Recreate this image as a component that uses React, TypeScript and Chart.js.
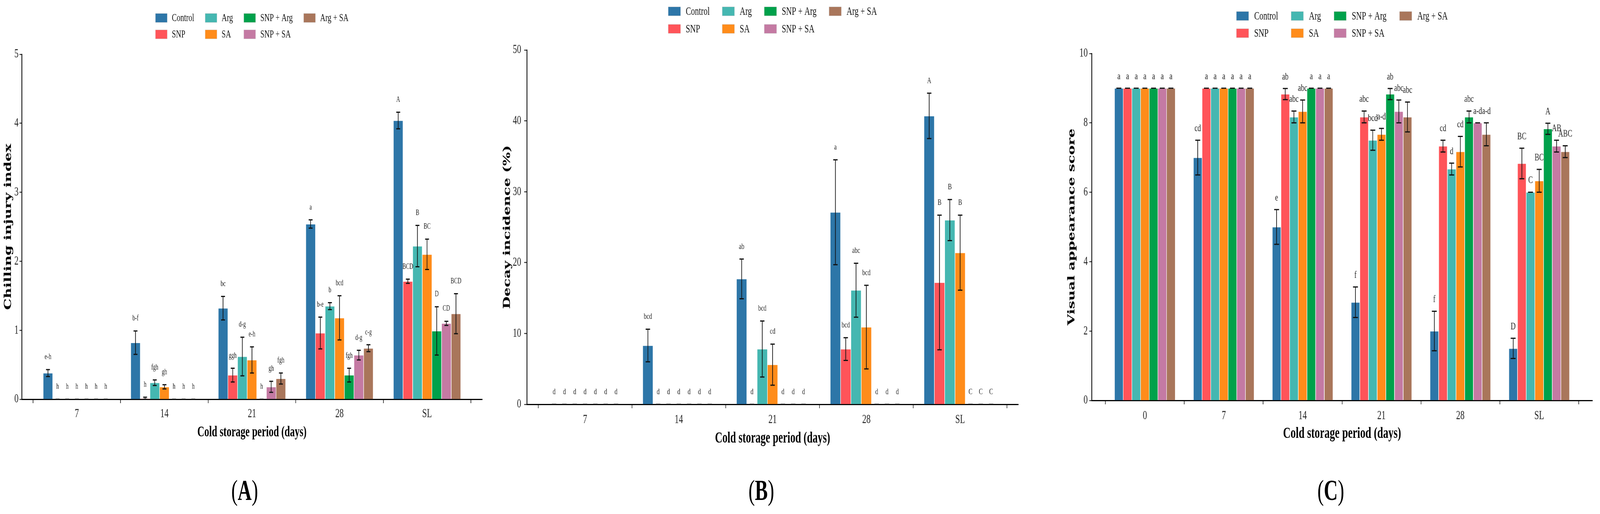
import { useEffect, useRef } from "react"
import { Chart, registerables } from "chart.js"

Chart.register(...registerables)

const treatments = ["Control", "SNP", "Arg", "SA", "SNP + Arg", "SNP + SA", "Arg + SA"]
const colors = ["#2D76A8", "#FF5459", "#45B7B1", "#FF8C1A", "#00A14B", "#C47AA3", "#A9765B"]

// (A) chilling injury index
const daysA = ["7", "14", "21", "28", "SL"]
const chillControl = [0.38, 0.82, 1.32, 2.54, 4.04]
const chillControlErr = [0.05, 0.17, 0.17, 0.06, 0.12]
const chillControlSig = ["e-h", "b-f", "bc", "a", "A"]
const chillSnp = [0, 0.01, 0.35, 0.96, 1.71]
const chillSnpErr = [0, 0.02, 0.1, 0.23, 0.03]
const chillSnpSig = ["h", "h", "ggh", "b-e", "BCD"]
const chillArg = [0, 0.24, 0.62, 1.35, 2.22]
const chillArgErr = [0, 0.04, 0.28, 0.05, 0.3]
const chillArgSig = ["h", "fgh", "d-g", "b", "B"]
const chillSa = [0, 0.18, 0.57, 1.18, 2.1]
const chillSaErr = [0, 0.03, 0.19, 0.32, 0.22]
const chillSaSig = ["h", "gh", "e-h", "bcd", "BC"]
const chillSnpArg = [0, 0, 0, 0.35, 0.99]
const chillSnpArgErr = [0, 0, 0, 0.1, 0.35]
const chillSnpArgSig = ["h", "h", "h", "fgh", "D"]
const chillSnpSa = [0, 0, 0.18, 0.64, 1.1]
const chillSnpSaErr = [0, 0, 0.08, 0.07, 0.03]
const chillSnpSaSig = ["h", "h", "gh", "d-g", "CD"]
const chillArgSa = [0, 0, 0.3, 0.74, 1.24]
const chillArgSaErr = [0, 0, 0.08, 0.05, 0.29]
const chillArgSaSig = ["h", "h", "fgh", "c-g", "BCD"]

// (B) decay incidence (%)
const daysB = ["7", "14", "21", "28", "SL"]
const decayControl = [0, 8.3, 17.7, 27.1, 40.7]
const decayControlErr = [0, 2.3, 2.8, 7.4, 3.2]
const decayControlSig = ["d", "bcd", "ab", "a", "A"]
const decaySnp = [0, 0, 0, 7.8, 17.2]
const decaySnpErr = [0, 0, 0, 1.6, 9.5]
const decaySnpSig = ["d", "d", "d", "bcd", "B"]
const decayArg = [0, 0, 7.8, 16.1, 26.0]
const decayArgErr = [0, 0, 3.95, 3.8, 2.9]
const decayArgSig = ["d", "d", "bcd", "abc", "B"]
const decaySa = [0, 0, 5.6, 10.9, 21.4]
const decaySaErr = [0, 0, 2.9, 5.9, 5.3]
const decaySaSig = ["d", "d", "cd", "bcd", "B"]
const decaySnpArg = [0, 0, 0, 0, 0]
const decaySnpArgErr = [0, 0, 0, 0, 0]
const decaySnpArgSig = ["d", "d", "d", "d", "C"]
const decaySnpSa = [0, 0, 0, 0, 0]
const decaySnpSaErr = [0, 0, 0, 0, 0]
const decaySnpSaSig = ["d", "d", "d", "d", "C"]
const decayArgSa = [0, 0, 0, 0, 0]
const decayArgSaErr = [0, 0, 0, 0, 0]
const decayArgSaSig = ["d", "d", "d", "d", "C"]

// (C) visual appearance score
const daysC = ["0", "7", "14", "21", "28", "SL"]
const visControl = [9, 7, 5, 2.83, 2, 1.5]
const visControlErr = [0, 0.5, 0.5, 0.44, 0.57, 0.29]
const visControlSig = ["a", "cd", "e", "f", "f", "D"]
const visSnp = [9, 9, 8.83, 8.17, 7.33, 6.83]
const visSnpErr = [0, 0, 0.16, 0.17, 0.17, 0.44]
const visSnpSig = ["a", "a", "ab", "abc", "cd", "BC"]
const visArg = [9, 9, 8.17, 7.5, 6.67, 6.0]
const visArgErr = [0, 0, 0.17, 0.29, 0.17, 0]
const visArgSig = ["a", "a", "abc", "bcd", "d", "C"]
const visSa = [9, 9, 8.33, 7.67, 7.17, 6.33]
const visSaErr = [0, 0, 0.33, 0.17, 0.44, 0.33]
const visSaSig = ["a", "a", "abc", "a-d", "cd", "BC"]
const visSnpArg = [9, 9, 9, 8.83, 8.17, 7.83]
const visSnpArgErr = [0, 0, 0, 0.16, 0.17, 0.16]
const visSnpArgSig = ["a", "a", "a", "ab", "abc", "A"]
const visSnpSa = [9, 9, 9, 8.33, 8.0, 7.33]
const visSnpSaErr = [0, 0, 0, 0.33, 0, 0.17]
const visSnpSaSig = ["a", "a", "a", "abc", "a-d", "AB"]
const visArgSa = [9, 9, 9, 8.17, 7.67, 7.17]
const visArgSaErr = [0, 0, 0, 0.43, 0.33, 0.17]
const visArgSaSig = ["a", "a", "a", "abc", "a-d", "ABC"]

const SERIF = '"Liberation Serif", "Times New Roman", serif'
const W = 6128
const H = 1317

// error bars + significance letters
const errorBarPlugin = {
  id: "errorBars",
  afterDatasetsDraw(chart: any, _args: any, opts: any) {
    const { ctx } = chart
    const y = chart.scales.y
    ctx.save()
    chart.data.datasets.forEach((ds: any, i: number) => {
      const meta = chart.getDatasetMeta(i)
      meta.data.forEach((bar: any, j: number) => {
        const v = ds.data[j].y
        const e = ds.errors[j]
        const top = y.getPixelForValue(v + e)
        const bot = y.getPixelForValue(Math.max(0, v - e))
        const half = opts.cap / 2
        ctx.strokeStyle = "#111"
        ctx.lineWidth = 2.5
        ctx.beginPath()
        ctx.moveTo(bar.x, top)
        ctx.lineTo(bar.x, bot)
        ctx.stroke()
        ctx.lineWidth = 3
        ctx.beginPath()
        ctx.moveTo(bar.x - half, top)
        ctx.lineTo(bar.x + half, top)
        ctx.moveTo(bar.x - half, bot)
        ctx.lineTo(bar.x + half, bot)
        ctx.stroke()
        ctx.fillStyle = "#222"
        ctx.font = `${opts.size}px ${SERIF}`
        ctx.textAlign = "center"
        ctx.textBaseline = "middle"
        ctx.fillText(ds.sig[j], bar.x, top - opts.gap)
      })
    })
    ctx.restore()
  },
}

// legend in a 4 x 2 grid, filled column by column
const gridLegendPlugin = {
  id: "gridLegend",
  afterDraw(chart: any, _args: any, opts: any) {
    const { ctx, chartArea } = chart
    const ds = chart.data.datasets
    ctx.save()
    ctx.font = `${opts.size}px ${SERIF}`
    const cols: any[] = []
    for (let c = 0; c < Math.ceil(ds.length / 2); c++) {
      const items = [ds[2 * c], ds[2 * c + 1]].filter(Boolean)
      const w = Math.max(...items.map((d: any) => ctx.measureText(d.label).width))
      cols.push({ items, w })
    }
    const total =
      cols.reduce((s, c) => s + opts.box + opts.gap + c.w, 0) + opts.colGap * (cols.length - 1)
    let x = (chartArea.left + chartArea.right) / 2 - total / 2
    cols.forEach((col) => {
      col.items.forEach((d: any, r: number) => {
        const cy = opts.rows[r]
        ctx.fillStyle = d.backgroundColor
        ctx.fillRect(x, cy - opts.boxH / 2, opts.box, opts.boxH)
        ctx.strokeStyle = "rgba(200,200,200,0.8)"
        ctx.lineWidth = 1
        ctx.strokeRect(x, cy - opts.boxH / 2, opts.box, opts.boxH)
        ctx.fillStyle = "#111"
        ctx.textAlign = "left"
        ctx.textBaseline = "middle"
        ctx.fillText(d.label, x + opts.box + opts.gap, cy + 1)
      })
      x += opts.box + opts.gap + col.w + opts.colGap
    })
    ctx.restore()
  },
}

const panels = [
  {
    key: "A",
    left: 0,
    width: 1960,
    area: { l: 83, r: 1847, t: 139, b: 1023 },
    cats: daysA,
    series: [chillControl, chillSnp, chillArg, chillSa, chillSnpArg, chillSnpSa, chillArgSa],
    errs: [chillControlErr, chillSnpErr, chillArgErr, chillSaErr, chillSnpArgErr, chillSnpSaErr, chillArgSaErr],
    sigs: [chillControlSig, chillSnpSig, chillArgSig, chillSaSig, chillSnpArgSig, chillSnpSaSig, chillArgSaSig],
    yMax: 5,
    yStep: 1,
    yTitle: "Chilling injury index",
    xOff: 0.63,
    yTitleX: 32,
    yTickPad: 4,
    yTickLen: 8,
    xTickY: 1061,
    xTitleY: 1108,
    xTitleSize: 37,
    legend: { rows: [46, 88], size: 28, box: 45, boxH: 23, gap: 18, colGap: 42 },
    sig: { size: 20, gap: 32, cap: 15 },
    labelX: 937,
  },
  {
    key: "B",
    left: 1880,
    width: 2110,
    area: { l: 138, r: 2020, t: 128, b: 1036 },
    cats: daysB,
    series: [decayControl, decaySnp, decayArg, decaySa, decaySnpArg, decaySnpSa, decayArgSa],
    errs: [decayControlErr, decaySnpErr, decayArgErr, decaySaErr, decaySnpArgErr, decaySnpSaErr, decayArgSaErr],
    sigs: [decayControlSig, decaySnpSig, decayArgSig, decaySaSig, decaySnpArgSig, decaySnpSaSig, decayArgSaSig],
    yMax: 50,
    yStep: 10,
    yTitle: "Decay incidence (%)",
    xOff: 0.62,
    yTitleX: 63,
    yTickPad: 12,
    yTickLen: 10,
    xTickY: 1076,
    xTitleY: 1124,
    xTitleSize: 39,
    legend: { rows: [29, 74], size: 30, box: 47, boxH: 23, gap: 20, colGap: 48 },
    sig: { size: 22, gap: 32, cap: 17 },
    labelX: 2916,
  },
  {
    key: "C",
    left: 4040,
    width: 2088,
    area: { l: 141, r: 2059, t: 137, b: 1026 },
    cats: daysC,
    series: [visControl, visSnp, visArg, visSa, visSnpArg, visSnpSa, visArgSa],
    errs: [visControlErr, visSnpErr, visArgErr, visSaErr, visSnpArgErr, visSnpSaErr, visArgSaErr],
    sigs: [visControlSig, visSnpSig, visArgSig, visSaSig, visSnpArgSig, visSnpSaSig, visArgSaSig],
    yMax: 10,
    yStep: 2,
    yTitle: "Visual appearance score",
    xOff: 0.675,
    yTitleX: 65,
    yTickPad: 6,
    yTickLen: 9,
    xTickY: 1066,
    xTitleY: 1112,
    xTitleSize: 40,
    legend: { rows: [41, 85], size: 30, box: 47, boxH: 23, gap: 21, colGap: 50 },
    sig: { size: 26, gap: 30, cap: 19 },
    labelX: 5097,
  },
]

function Panel({ p }: { p: (typeof panels)[number] }) {
  const chartRef = useRef<HTMLCanvasElement>(null)
  const chartInstance = useRef<Chart | null>(null)

  useEffect(() => {
    if (!chartRef.current) return
    if (chartInstance.current) chartInstance.current.destroy()

    const xAxisH = 110
    const xTickLen = 10
    const xTickFont = 32
    const yTitleSize = 37

    const datasets = treatments.map((label, t) => ({
      label,
      data: p.series[t].map((v, i) => ({ x: i, y: v })),
      errors: p.errs[t],
      sig: p.sigs[t],
      backgroundColor: colors[t],
      borderColor: "rgba(255,255,255,0.45)",
      borderWidth: 1,
    }))

    chartInstance.current = new Chart(chartRef.current, {
      type: "bar",
      data: { datasets } as any,
      plugins: [errorBarPlugin, gridLegendPlugin],
      options: {
        animation: false,
        responsive: true,
        maintainAspectRatio: false,
        devicePixelRatio: 1,
        layout: {
          padding: {
            top: p.area.t,
            left: 0,
            right: p.width - p.area.r,
            bottom: H - p.area.b - xAxisH,
          },
        },
        datasets: { bar: { categoryPercentage: 0.77, barPercentage: 1 } },
        plugins: {
          legend: { display: false },
          tooltip: { enabled: false },
          errorBars: p.sig,
          gridLegend: p.legend,
        } as any,
        scales: {
          x: {
            type: "linear",
            min: -p.xOff,
            max: p.cats.length - 1 + p.xOff,
            offset: false,
            z: 1,
            afterBuildTicks: (s: any) => {
              s.ticks = p.cats.map((_, i) => ({ value: i }))
            },
            afterFit: (s: any) => {
              s.height = xAxisH
            },
            ticks: {
              callback: (v: any) => p.cats[v],
              autoSkip: false,
              maxRotation: 0,
              color: "#222",
              font: { family: SERIF, size: xTickFont },
              padding: p.xTickY - p.area.b - xTickLen - (xTickFont * 1.2) / 2,
            },
            grid: { display: true, drawOnChartArea: false, tickLength: xTickLen, tickWidth: 2, tickColor: "#000" },
            border: { display: true, color: "#000", width: 3 },
            title: {
              display: true,
              text: "Cold storage period (days)",
              color: "#000",
              font: { family: SERIF, size: p.xTitleSize, weight: "bold", lineHeight: 1 },
              padding: { top: 0, bottom: p.area.b + xAxisH - p.xTitleY - p.xTitleSize / 2 },
            },
          },
          y: {
            min: 0,
            max: p.yMax,
            afterFit: (s: any) => {
              s.width = p.area.l
            },
            ticks: {
              stepSize: p.yStep,
              color: "#222",
              font: { family: SERIF, size: 32 },
              padding: p.yTickPad,
            },
            grid: { display: true, drawOnChartArea: false, tickLength: p.yTickLen, tickWidth: 2, tickColor: "#000" },
            border: { display: true, color: "#000", width: 3 },
            title: {
              display: true,
              text: p.yTitle,
              color: "#000",
              font: { family: '"DejaVu Serif", serif', size: yTitleSize, weight: "bold", lineHeight: 1 },
              padding: { top: p.yTitleX - yTitleSize / 2, bottom: 0 },
            },
          },
        },
      },
    })

    return () => {
      if (chartInstance.current) {
        chartInstance.current.destroy()
        chartInstance.current = null
      }
    }
  }, [p])

  return (
    <div style={{ position: "absolute", left: p.left, top: 0, width: p.width, height: H }}>
      <canvas ref={chartRef} />
    </div>
  )
}

export default function App() {
  // the figure is laid out on a 6128 px wide sheet and squeezed to the real window width
  const sx = Math.min(1, window.innerWidth / W)
  return (
    <div style={{ position: "absolute", left: 0, top: 0, width: "100vw", height: H, overflow: "hidden", background: "#fff" }}>
      <div
        style={{
          position: "absolute",
          left: 0,
          top: 0,
          width: W,
          height: H,
          background: "#fff",
          transform: `scaleX(${sx})`,
          transformOrigin: "0 0",
        }}
      >
        {panels.map((p) => (
          <Panel key={p.key} p={p} />
        ))}
        {panels.map((p) => (
          <div
            key={"lbl" + p.key}
            style={{
              position: "absolute",
              left: p.labelX,
              top: 1256,
              transform: "translate(-50%, -50%)",
              fontFamily: SERIF,
              fontSize: 74,
              lineHeight: 1,
              color: "#000",
              whiteSpace: "nowrap",
            }}
          >
            (<b>{p.key}</b>)
          </div>
        ))}
      </div>
    </div>
  )
}
